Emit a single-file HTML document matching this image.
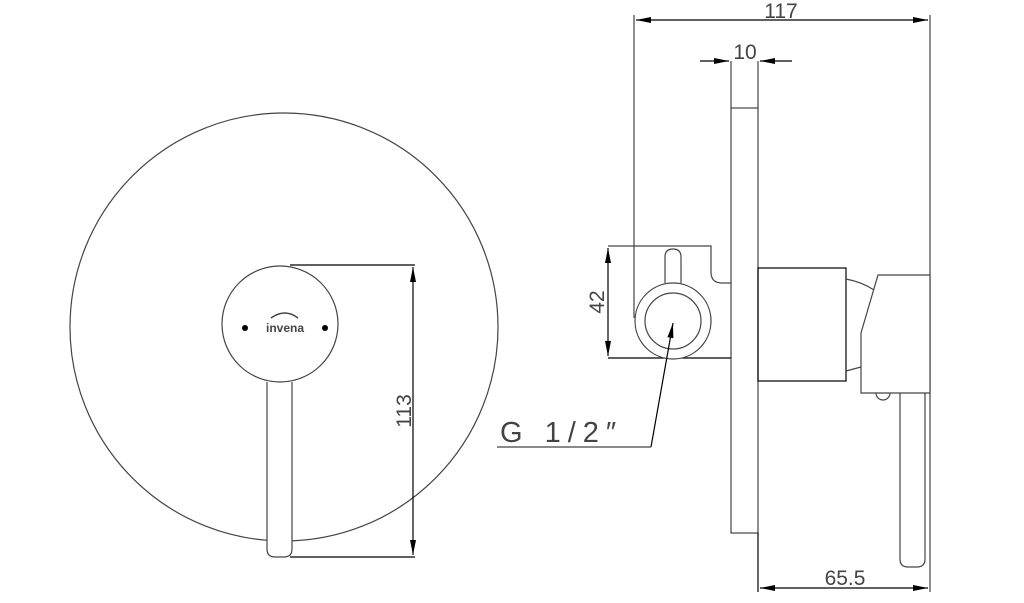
<!DOCTYPE html>
<html><head><meta charset="utf-8"><style>
html,body{margin:0;padding:0;background:#fff;}
svg{display:block;}
text{font-family:"Liberation Sans","DejaVu Sans",sans-serif;fill:#444;}
</style></head><body>
<svg width="1024" height="603" viewBox="0 0 1024 603" xmlns="http://www.w3.org/2000/svg">
<defs>
<marker id="a" viewBox="0 0 10 4" refX="10" refY="2" markerWidth="16" markerHeight="6" orient="auto-start-reverse" markerUnits="userSpaceOnUse"><path d="M0,0 L10,2 L0,4 Z" fill="#000"/></marker>
</defs>
<g fill="none" stroke="#444" stroke-width="1.2">
<circle cx="284" cy="327" r="214"/>
<path d="M267,382 L267,549 Q267,557 275,557 L284,557 Q292,557 292,549 L292,382" fill="#fff"/>
<circle cx="280" cy="324" r="58" fill="#fff"/>
<path d="M271,318 Q285,308 298,318" stroke-width="1.5"/>
<line x1="290" y1="265" x2="415" y2="265" stroke="#000"/>
<line x1="290" y1="557" x2="415" y2="557" stroke="#000"/>
<line x1="413" y1="267" x2="413" y2="555" stroke="#000" marker-start="url(#a)" marker-end="url(#a)"/>

<line x1="636" y1="20" x2="928" y2="20" stroke="#000" marker-start="url(#a)" marker-end="url(#a)"/>
<line x1="634" y1="15" x2="634" y2="318"/>
<line x1="930" y1="15" x2="930" y2="592"/>
<line x1="700" y1="61" x2="729" y2="61" stroke="#000" marker-end="url(#a)"/>
<line x1="792" y1="61" x2="760" y2="61" stroke="#000" marker-end="url(#a)"/>
<line x1="731" y1="61" x2="731" y2="108"/>
<line x1="758" y1="61" x2="758" y2="108"/>
<rect x="731" y="108" width="27" height="425"/>
<line x1="758" y1="533" x2="758" y2="592" stroke="#000"/>
<line x1="760" y1="588" x2="928" y2="588" stroke="#000" marker-start="url(#a)" marker-end="url(#a)"/>
<rect x="758" y="268" width="88" height="113" stroke="#000"/>
<path d="M846,279 Q862,282 874,290"/>
<path d="M846,371 L861,367"/>
<path d="M878,275 L930,275 L930,393 L861,393 L861,333 Z" fill="#fff"/>
<path d="M876,393 A7,7 0 0 0 890,393"/>
<path d="M900,393 L900,559 Q900,567 908,567 L917,567 Q925,567 925,559 L925,393"/>
<path d="M608,246 L711,246 L711,272 Q711,283 722,283 L731,283"/>
<line x1="608" y1="358" x2="731" y2="358" stroke="#000"/>
<path d="M665,283 L665,257 Q665,249 673,249 Q681,249 681,257 L681,283"/>
<circle cx="673" cy="321" r="38" fill="#fff"/>
<circle cx="673" cy="321" r="28"/>
<line x1="608" y1="248" x2="608" y2="356" stroke="#000" marker-start="url(#a)" marker-end="url(#a)"/>
<line x1="651" y1="447" x2="673" y2="323" stroke="#000" marker-end="url(#a)"/>
<line x1="497" y1="447" x2="651" y2="447"/>
</g>
<circle cx="245" cy="328" r="3" fill="#000"/>
<circle cx="325" cy="328" r="3" fill="#000"/>
<text x="285" y="332" font-size="12" font-weight="bold" text-anchor="middle" fill="#444">invena</text>
<text x="781" y="18" font-size="21" text-anchor="middle">117</text>
<text x="745" y="59" font-size="21" text-anchor="middle">10</text>
<text x="845" y="585" font-size="21" text-anchor="middle">65.5</text>
<text font-size="21" text-anchor="middle" transform="translate(604,302) rotate(-90)">42</text>
<text font-size="21" text-anchor="middle" transform="translate(411,411) rotate(-90)">113</text>
<text x="500" y="442" font-size="29" letter-spacing="7" fill="#555">G 1/2″</text>
</svg>
</body></html>
